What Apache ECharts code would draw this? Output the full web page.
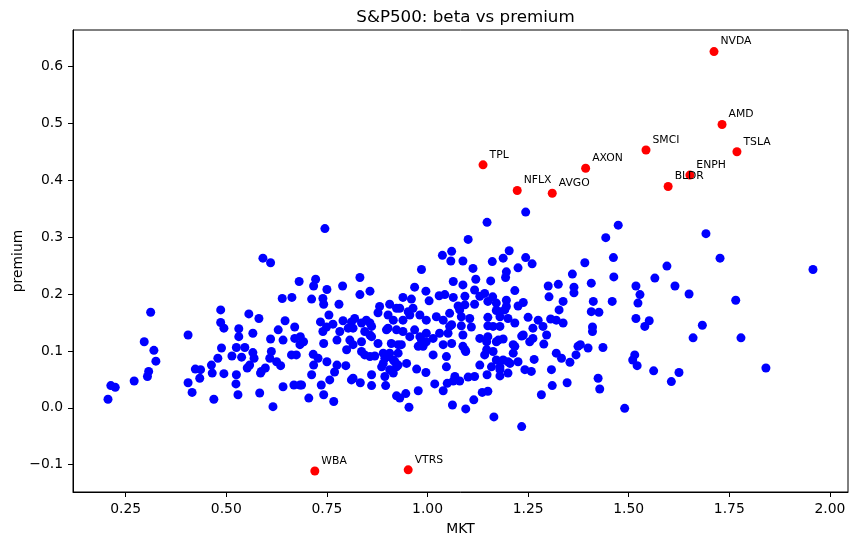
<!DOCTYPE html>
<html><head><meta charset="utf-8">
<script src="https://cdn.jsdelivr.net/npm/echarts@6/dist/echarts.min.js"></script>
<style>html,body{margin:0;padding:0;background:#fff}#c{width:858px;height:545px}</style>
</head><body><div id="c"></div>
<script>
const xTicks = [0.25, 0.5, 0.75, 1.0, 1.25, 1.5, 1.75, 2.0];
const yTicks = [-0.1, 0, 0.1, 0.2, 0.3, 0.4, 0.5, 0.6];

// [MKT beta, premium] for the unlabelled stocks
const blueStocks = [
[0.591,0.263],[0.610,0.255],[0.681,0.222],[0.639,0.192],[0.663,0.194],[0.312,0.168],[0.486,0.172],[0.556,0.165],[0.581,0.157],[0.486,0.150],
[0.494,0.140],[0.531,0.139],[0.531,0.125],[0.566,0.131],[0.646,0.153],[0.629,0.137],[0.670,0.142],[0.405,0.128],[0.610,0.121],[0.641,0.119],
[0.670,0.122],[0.683,0.111],[0.296,0.116],[0.320,0.101],[0.325,0.082],[0.307,0.064],[0.304,0.055],[0.271,0.047],[0.213,0.039],[0.224,0.036],
[0.206,0.015],[0.488,0.105],[0.479,0.087],[0.463,0.075],[0.423,0.068],[0.436,0.067],[0.465,0.061],[0.434,0.052],[0.405,0.044],[0.415,0.027],
[0.494,0.060],[0.525,0.058],[0.524,0.042],[0.529,0.023],[0.469,0.015],[0.583,0.026],[0.616,0.002],[0.641,0.037],[0.668,0.040],[0.683,0.040],
[0.514,0.091],[0.538,0.089],[0.525,0.106],[0.546,0.106],[0.566,0.097],[0.569,0.087],[0.558,0.075],[0.552,0.070],[0.587,0.064],[0.597,0.070],
[0.608,0.087],[0.612,0.099],[0.625,0.081],[0.635,0.074],[0.662,0.093],[0.674,0.093],[0.585,0.061],
[0.745,0.315],[1.148,0.326],[1.101,0.296],[1.037,0.268],[1.060,0.275],[1.058,0.258],[1.088,0.258],[1.161,0.257],[1.113,0.245],[0.985,0.243],
[0.832,0.229],[0.722,0.226],[0.717,0.214],[0.750,0.208],[0.789,0.214],[0.832,0.199],[0.857,0.205],[0.712,0.191],[0.740,0.192],[0.742,0.182],
[0.780,0.182],[0.755,0.163],[0.968,0.212],[0.996,0.205],[1.064,0.222],[1.088,0.216],[1.120,0.226],[1.157,0.223],[1.117,0.207],[1.142,0.201],
[1.162,0.195],[1.029,0.197],[1.043,0.199],[1.064,0.194],[0.939,0.194],[0.960,0.191],[1.004,0.188],[1.093,0.196],[1.093,0.181],[1.117,0.182],
[0.881,0.178],[0.906,0.182],[0.923,0.175],[0.964,0.175],[1.076,0.179],[1.171,0.171],[0.877,0.167],[0.902,0.163],[0.952,0.169],[0.981,0.163],
[1.022,0.160],[1.055,0.166],[1.084,0.160],[1.105,0.157],[1.150,0.159],[0.734,0.151],[0.765,0.147],[0.790,0.153],[0.819,0.157],[0.848,0.154],
[0.857,0.149],[0.915,0.154],[0.997,0.154],[1.039,0.154],[1.060,0.146],[1.084,0.144],[1.109,0.142],[1.150,0.144],[1.180,0.143],[0.902,0.140],
[0.815,0.140],[0.749,0.142],
[0.931,0.175],[0.811,0.151],[0.740,0.134],[0.782,0.134],[0.803,0.140],[0.836,0.149],[0.844,0.134],[0.861,0.143],[0.898,0.137],[0.923,0.137],
[0.684,0.125],[0.692,0.116],[0.742,0.113],[0.775,0.119],[0.807,0.119],[0.815,0.111],[0.836,0.116],[0.861,0.125],[0.877,0.113],[0.910,0.113],
[0.927,0.111],[0.799,0.102],[0.836,0.099],[0.857,0.090],[0.890,0.096],[0.902,0.090],[0.927,0.096],[0.886,0.072],[0.919,0.081],[0.927,0.075],
[0.716,0.094],[0.728,0.087],[0.750,0.081],[0.775,0.075],[0.797,0.074],[0.717,0.075],[0.712,0.058],[0.769,0.063],[0.815,0.052],[0.861,0.058],
[0.894,0.055],[0.915,0.061],
[0.857,0.128],[0.844,0.093],[0.869,0.091],[0.906,0.096],[0.894,0.087],[0.890,0.078],[0.915,0.084],[0.923,0.072],[0.906,0.067],[0.948,0.078],
[0.757,0.049],[0.736,0.040],[0.687,0.040],[0.742,0.023],[0.705,0.017],[0.767,0.011],[0.811,0.049],[0.833,0.044],[0.861,0.039],[0.896,0.039],
[0.923,0.021],[0.946,0.025],[0.931,0.017],[0.954,0.001],[0.977,0.030],[0.973,0.068],[0.996,0.062],[1.018,0.042],[1.039,0.030],[1.049,0.043],
[1.064,0.047],[1.080,0.047],[1.101,0.054],[1.117,0.055],[1.136,0.027],[1.150,0.029],[1.115,0.014],[1.062,0.005],[1.095,-0.002],[1.165,-0.016],
[1.148,0.058],[1.130,0.075],[1.159,0.072],[1.014,0.093],[1.047,0.090],[1.047,0.072],[1.095,0.099],[1.088,0.108],[1.142,0.093],[1.171,0.084],
[1.163,0.099],[1.130,0.122],[1.147,0.116],[1.176,0.119],[1.060,0.113],[1.039,0.111],[0.977,0.108],[0.985,0.119],[1.014,0.122],[0.956,0.125],
[0.968,0.137],[0.997,0.131],[1.030,0.131],[1.055,0.143],
[1.130,0.196],[1.150,0.187],[1.180,0.169],[1.080,0.172],[0.956,0.163],[0.939,0.154],[0.939,0.134],[0.981,0.125],[0.997,0.116],[0.989,0.108],
[1.051,0.131],[1.088,0.128],[1.150,0.125],[1.093,0.102],[1.147,0.102],[1.180,0.072],[1.068,0.055],[0.935,0.111],
[1.244,0.344],[1.474,0.321],[1.443,0.299],[1.203,0.276],[1.188,0.263],[1.244,0.264],[1.260,0.253],[1.225,0.246],[1.196,0.239],[1.194,0.229],
[1.391,0.255],[1.462,0.264],[1.595,0.249],[1.360,0.235],[1.463,0.230],[1.565,0.228],[1.300,0.214],[1.325,0.217],[1.364,0.212],[1.364,0.202],
[1.407,0.219],[1.518,0.214],[1.615,0.214],[1.528,0.199],[1.650,0.200],[1.217,0.206],[1.302,0.195],[1.337,0.187],[1.412,0.187],[1.459,0.187],
[1.523,0.184],[1.196,0.189],[1.238,0.185],[1.225,0.179],[1.196,0.178],[1.327,0.172],[1.407,0.169],[1.426,0.168],[1.250,0.159],[1.275,0.154],
[1.306,0.156],[1.320,0.154],[1.337,0.149],[1.518,0.157],[1.551,0.153],[1.410,0.142],[1.540,0.143],[1.287,0.143],[1.262,0.140],
[1.171,0.184],[1.192,0.172],[1.180,0.160],[1.200,0.157],[1.217,0.149],[1.296,0.128],[1.238,0.128],[1.262,0.122],[1.254,0.116],[1.163,0.143],
[1.188,0.121],[1.171,0.116],[1.213,0.111],[1.213,0.096],[1.188,0.084],[1.205,0.078],[1.225,0.081],[1.265,0.085],[1.320,0.096],[1.333,0.087],
[1.354,0.080],[1.374,0.108],[1.242,0.067],[1.258,0.064],[1.308,0.067],[1.180,0.067],[1.200,0.061],[1.180,0.056],
[1.410,0.134],[1.436,0.106],[1.380,0.111],[1.399,0.105],[1.369,0.093],[1.515,0.093],[1.510,0.084],[1.521,0.074],[1.562,0.065],[1.625,0.062],
[1.606,0.046],[1.424,0.052],[1.428,0.033],[1.490,-0.001],[1.347,0.044],[1.310,0.039],[1.283,0.023],[1.289,0.112],[1.234,0.126],[1.200,0.081],
[1.217,0.108],[1.234,-0.033],
[1.692,0.306],[1.727,0.263],[1.958,0.243],[1.766,0.189],[1.683,0.145],[1.660,0.123],[1.779,0.123],[1.841,0.070]
];

const redNames   = ['NVDA','AMD','TSLA','SMCI','ENPH','BLDR','AXON','TPL','NFLX','AVGO','WBA','VTRS'];
const redMkt     = [1.712, 1.732, 1.769, 1.543, 1.652, 1.598, 1.393, 1.138, 1.223, 1.310, 0.720, 0.952];
const redPremium = [0.626, 0.498, 0.450, 0.453, 0.409, 0.389, 0.421, 0.427, 0.382, 0.377, -0.111, -0.109];

const redData = redNames.map((n, i) => ({ name: n, value: [redMkt[i], redPremium[i]] }));
const FONT = 'DejaVu Sans';

const chart = echarts.init(document.getElementById('c'), null, { renderer: 'canvas' });
chart.setOption({
  animation: false,
  backgroundColor: '#fff',
  textStyle: { fontFamily: FONT, color: '#000' },
  title: {
    text: 'S&P500: beta vs premium',
    left: 460.5, textAlign: 'center', top: 4,
    textStyle: { fontFamily: FONT, fontSize: 16.7, fontWeight: 'normal', color: '#000' }
  },
  grid: { left: 73, right: 10, top: 30, bottom: 53, outerBoundsMode: 'none', containLabel: false,
          show: true, borderColor: '#000', borderWidth: 1, backgroundColor: 'transparent' },
  xAxis: {
    type: 'value', min: 0.119, max: 2.045,
    name: 'MKT', nameLocation: 'middle', nameGap: 30, nameMoveOverlap: false,
    nameTextStyle: { fontFamily: FONT, fontSize: 13.9, color: '#000' },
    axisLine: { show: true, onZero: false, lineStyle: { color: '#000', width: 1 } },
    axisTick: { show: true, length: 5, lineStyle: { color: '#000', width: 1 }, customValues: xTicks },
    axisLabel: { customValues: xTicks, formatter: v => v.toFixed(2), fontFamily: FONT, fontSize: 13.9, color: '#000', margin: 10 },
    splitLine: { show: false }
  },
  yAxis: {
    type: 'value', min: -0.148, max: 0.664,
    name: 'premium', nameLocation: 'middle', nameGap: 48, nameRotate: 90, nameMoveOverlap: false,
    nameTextStyle: { fontFamily: FONT, fontSize: 13.9, color: '#000' },
    axisLine: { show: true, onZero: false, lineStyle: { color: '#000', width: 1 } },
    axisTick: { show: true, length: 5, lineStyle: { color: '#000', width: 1 }, customValues: yTicks },
    axisLabel: { customValues: yTicks, formatter: v => (v < 0 ? '\u2212' + Math.abs(v).toFixed(1) : v.toFixed(1)), fontFamily: FONT, fontSize: 13.9, color: '#000', margin: 10 },
    splitLine: { show: false }
  },
  series: [
    {
      type: 'scatter', data: blueStocks, symbolSize: 9, silent: true,
      itemStyle: { color: '#0000ff', opacity: 1 }, z: 2
    },
    {
      type: 'scatter', data: redData, symbolSize: 9, silent: true,
      itemStyle: { color: '#ff0000', opacity: 1 }, z: 3,
      label: { show: true, formatter: p => p.name, position: [11, -11], fontFamily: FONT, fontSize: 10.8, color: '#000' },
      labelLayout: { hideOverlap: false }
    }
  ]
});
</script>
</body></html>
